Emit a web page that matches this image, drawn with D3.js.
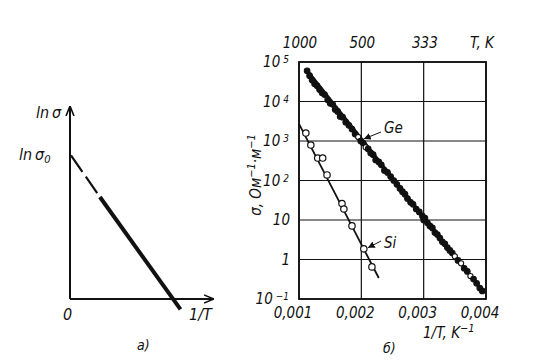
<!DOCTYPE html>
<html>
<head>
<meta charset="utf-8">
<script src="https://cdn.jsdelivr.net/npm/d3@7"></script>
<style>
  body { margin: 0; background: #fff; }
  text { font-family: "DejaVu Sans Condensed", "DejaVu Sans", sans-serif; font-stretch: condensed; font-style: italic; fill: #111; }
</style>
</head>
<body>
<svg></svg>
<script>
// panel a) schematic: ln(sigma) vs 1/T
var schemeLine = [{x: 0, y: 0.76}, {x: 0.85, y: -0.055}];
var schemeDashEnd = 0.23;

// panel b) measured data, 1/T in K^-1, sigma in Ohm^-1 m^-1
var geInvT = [0.00113, 0.00117, 0.00121, 0.00125, 0.00129, 0.00133, 0.00137, 0.00141, 0.00146, 0.00150,
              0.00154, 0.00158, 0.00162, 0.00166, 0.00170, 0.00175, 0.00180, 0.00185, 0.00190, 0.00195,
              0.00199, 0.00203, 0.00207, 0.00211, 0.00215, 0.00219, 0.00223, 0.00228, 0.00232, 0.00237,
              0.00242, 0.00247, 0.00252, 0.00257, 0.00262, 0.00266, 0.00270, 0.00274, 0.00279, 0.00283,
              0.00288, 0.00293, 0.00298, 0.00300, 0.00302, 0.00306, 0.00310, 0.00314, 0.00318, 0.00322,
              0.00326, 0.00330, 0.00334, 0.00338, 0.00342, 0.00346, 0.00350, 0.00355, 0.00360, 0.00365,
              0.00370, 0.00375, 0.00380, 0.00385, 0.00390, 0.00394];
var geSigma = [60000, 45000, 35000, 28000, 25000, 20000, 16600, 15000, 11000, 9000,
               8500, 6300, 5600, 4200, 4000, 3000, 2500, 2000, 1500, 1260,
               1000, 890, 690, 630, 500, 450, 330, 295, 250, 180,
               160, 126, 100, 80, 63, 52, 45, 35, 28, 25,
               19, 16, 12.6, 10, 11.2, 8.5, 7.1, 6.3, 4.8, 4.3,
               3.5, 2.8, 2.5, 2.0, 1.7, 1.45, 1.2, 0.95, 0.8, 0.6,
               0.5, 0.38, 0.32, 0.25, 0.19, 0.16];
var geOpen = [0.00195, 0.00207, 0.00350, 0.00360, 0.00375];
var geFit = [{x: 0.00113, s: 63000}, {x: 0.00397, s: 0.145}];

var siInvT = [0.00111, 0.00119, 0.00130, 0.00138, 0.00145, 0.00169, 0.00172, 0.00185, 0.00204, 0.00217];
var siSigma = [1590, 790, 370, 370, 138, 26, 19, 7.1, 1.86, 0.65];
var siFit = [{x: 0.00100, s: 2700}, {x: 0.00228, s: 0.34}];

var xTicks = [0.001, 0.002, 0.003, 0.004];
var xTickLabels = ["0,001", "0,002", "0,003", "0,004"];
var tempLabels = ["1000", "500", "333"];
var yTicks = [1e5, 1e4, 1e3, 1e2, 10, 1, 0.1];
var yTickBase = ["10", "10", "10", "10", "10", "1", "10"];
var yTickExp = ["5", "4", "3", "2", "", "", "\u22121"];

var W = 538, H = 363;
var svg = d3.select("svg").attr("width", W).attr("height", H);
svg.append("rect").attr("width", W).attr("height", H).attr("fill", "#fff");

var ink = "#111";
var defs = svg.append("defs");
defs.append("marker").attr("id", "arr").attr("viewBox", "0 0 10 10")
  .attr("refX", 10).attr("refY", 5).attr("markerWidth", 10).attr("markerHeight", 10)
  .attr("markerUnits", "userSpaceOnUse").attr("orient", "auto")
  .append("path").attr("d", "M0,1 L10,5 L0,9").attr("fill", "none").attr("stroke", ink).attr("stroke-width", 1.6);
defs.append("marker").attr("id", "arrs").attr("viewBox", "0 0 10 10")
  .attr("refX", 10).attr("refY", 5).attr("markerWidth", 7).attr("markerHeight", 7)
  .attr("markerUnits", "userSpaceOnUse").attr("orient", "auto")
  .append("path").attr("d", "M0,0 L10,5 L0,10 Z").attr("fill", ink);

// ---------- panel a ----------
var ax = d3.scaleLinear().domain([0, 1]).range([70, 200]);
var ay = d3.scaleLinear().domain([0, 1]).range([299, 110]);
var ga = svg.append("g");

ga.append("line").attr("x1", ax(0)).attr("y1", ay(0)).attr("x2", ax(0)).attr("y2", 106)
  .attr("stroke", ink).attr("stroke-width", 2).attr("marker-end", "url(#arr)");
ga.append("line").attr("x1", ax(0)).attr("y1", ay(0)).attr("x2", 214).attr("y2", ay(0))
  .attr("stroke", ink).attr("stroke-width", 2).attr("marker-end", "url(#arr)");

var slope = (schemeLine[1].y - schemeLine[0].y) / (schemeLine[1].x - schemeLine[0].x);
var yAt = function(x) { return schemeLine[0].y + slope * (x - schemeLine[0].x); };
ga.append("line")
  .attr("x1", ax(0) + 1).attr("y1", ay(yAt(0)))
  .attr("x2", ax(schemeDashEnd)).attr("y2", ay(yAt(schemeDashEnd)))
  .attr("stroke", ink).attr("stroke-width", 2.2).attr("stroke-dasharray", "20,6");
ga.append("line")
  .attr("x1", ax(schemeDashEnd)).attr("y1", ay(yAt(schemeDashEnd)))
  .attr("x2", ax(schemeLine[1].x)).attr("y2", ay(schemeLine[1].y))
  .attr("stroke", ink).attr("stroke-width", 4);

ga.append("text").attr("x", 36).attr("y", 118).attr("font-size", 16).text("ln\u2009\u03C3");
var l0 = ga.append("text").attr("x", 19).attr("y", 160).attr("font-size", 16);
l0.append("tspan").text("ln\u2009\u03C3");
l0.append("tspan").attr("font-size", 11).attr("dy", 3).text("0");
ga.append("text").attr("x", 63).attr("y", 320).attr("font-size", 16).text("0");
ga.append("text").attr("x", 189).attr("y", 320).attr("font-size", 16).text("1/T");
ga.append("text").attr("x", 137).attr("y", 350).attr("font-size", 14).text("\u0430)");

// ---------- panel b ----------
var x = d3.scaleLinear().domain([0.001, 0.004]).range([299, 486]);
var y = d3.scaleLog().domain([0.1, 1e5]).range([299, 62]);
var gb = svg.append("g");

gb.selectAll(".vg").data(xTicks).enter().append("line")
  .attr("x1", d => x(d)).attr("x2", d => x(d)).attr("y1", y(1e5)).attr("y2", y(0.1))
  .attr("stroke", ink).attr("stroke-width", 1.2);
gb.selectAll(".hg").data(yTicks).enter().append("line")
  .attr("x1", x(0.001)).attr("x2", x(0.004)).attr("y1", d => y(d)).attr("y2", d => y(d))
  .attr("stroke", ink).attr("stroke-width", 1.2);
gb.append("rect").attr("x", x(0.001)).attr("y", y(1e5))
  .attr("width", x(0.004) - x(0.001)).attr("height", y(0.1) - y(1e5))
  .attr("fill", "none").attr("stroke", ink).attr("stroke-width", 1.8);

// fitted lines
var line = d3.line().x(d => x(d.x)).y(d => y(d.s));
gb.append("path").attr("d", line(geFit)).attr("stroke", ink).attr("stroke-width", 2.4).attr("fill", "none");
gb.append("path").attr("d", line(siFit)).attr("stroke", ink).attr("stroke-width", 1.8).attr("fill", "none");

// Ge points
var ge = geInvT.map((t, i) => ({x: t, s: geSigma[i], open: geOpen.indexOf(t) >= 0}));
gb.selectAll(".ge").data(ge).enter().append("circle")
  .attr("cx", d => x(d.x)).attr("cy", d => y(d.s)).attr("r", d => d.open ? 2.6 : 2.8)
  .attr("fill", d => d.open ? "#fff" : ink).attr("stroke", ink).attr("stroke-width", 1.1);

// Si points
var si = siInvT.map((t, i) => ({x: t, s: siSigma[i]}));
gb.selectAll(".si").data(si).enter().append("circle")
  .attr("cx", d => x(d.x)).attr("cy", d => y(d.s)).attr("r", 3.2)
  .attr("fill", "#fff").attr("stroke", ink).attr("stroke-width", 1.2);

// bottom tick labels
gb.selectAll(".xl").data(xTicks).enter().append("text")
  .attr("x", d => x(d) - 6).attr("y", 318).attr("text-anchor", "middle").attr("font-size", 15)
  .text((d, i) => xTickLabels[i]);
var xt = gb.append("text").attr("x", 423).attr("y", 338).attr("font-size", 15);
xt.append("tspan").text("1/T, K");
xt.append("tspan").attr("font-size", 11).attr("dy", -6).text("\u22121");

// top temperature labels
gb.selectAll(".tl").data(tempLabels).enter().append("text")
  .attr("x", d => x(1 / +d) + 1).attr("y", 48).attr("text-anchor", "middle").attr("font-size", 15)
  .text(d => d);
gb.append("text").attr("x", 470).attr("y", 48).attr("font-size", 15).text("T, K");

// left tick labels
var yl = gb.selectAll(".yl").data(yTicks).enter().append("text")
  .attr("y", d => y(d) + 5).attr("text-anchor", "end").attr("font-size", 15)
  .attr("x", (d, i) => yTickExp[i] ? 289 : 290);
yl.append("tspan").text((d, i) => yTickBase[i]);
yl.append("tspan").attr("font-size", 10).attr("dx", 3).attr("dy", -4).text((d, i) => yTickExp[i]);

// y title
var yt = gb.append("text").attr("transform", "translate(261,175) rotate(-90)")
  .attr("text-anchor", "middle").attr("font-size", 15);
yt.append("tspan").text("\u03C3, \u041E\u043C");
yt.append("tspan").attr("font-size", 11).attr("dy", -6).text("\u22121");
yt.append("tspan").attr("dy", 6).text("\u00B7\u043C");
yt.append("tspan").attr("font-size", 11).attr("dy", -6).text("\u22121");

// annotations
gb.append("text").attr("x", 384).attr("y", 133).attr("font-size", 15).text("Ge");
gb.append("line").attr("x1", 381).attr("y1", 132).attr("x2", x(0.00199) + 3).attr("y2", y(1000) - 2)
  .attr("stroke", ink).attr("stroke-width", 1).attr("marker-end", "url(#arrs)");
gb.append("text").attr("x", 384).attr("y", 248).attr("font-size", 15).text("Si");
gb.append("line").attr("x1", 381).attr("y1", 241).attr("x2", x(0.00204) + 4).attr("y2", y(1.86) - 1)
  .attr("stroke", ink).attr("stroke-width", 1).attr("marker-end", "url(#arrs)");

gb.append("text").attr("x", 383).attr("y", 353).attr("font-size", 14).text("\u0431)");
</script>
</body>
</html>
